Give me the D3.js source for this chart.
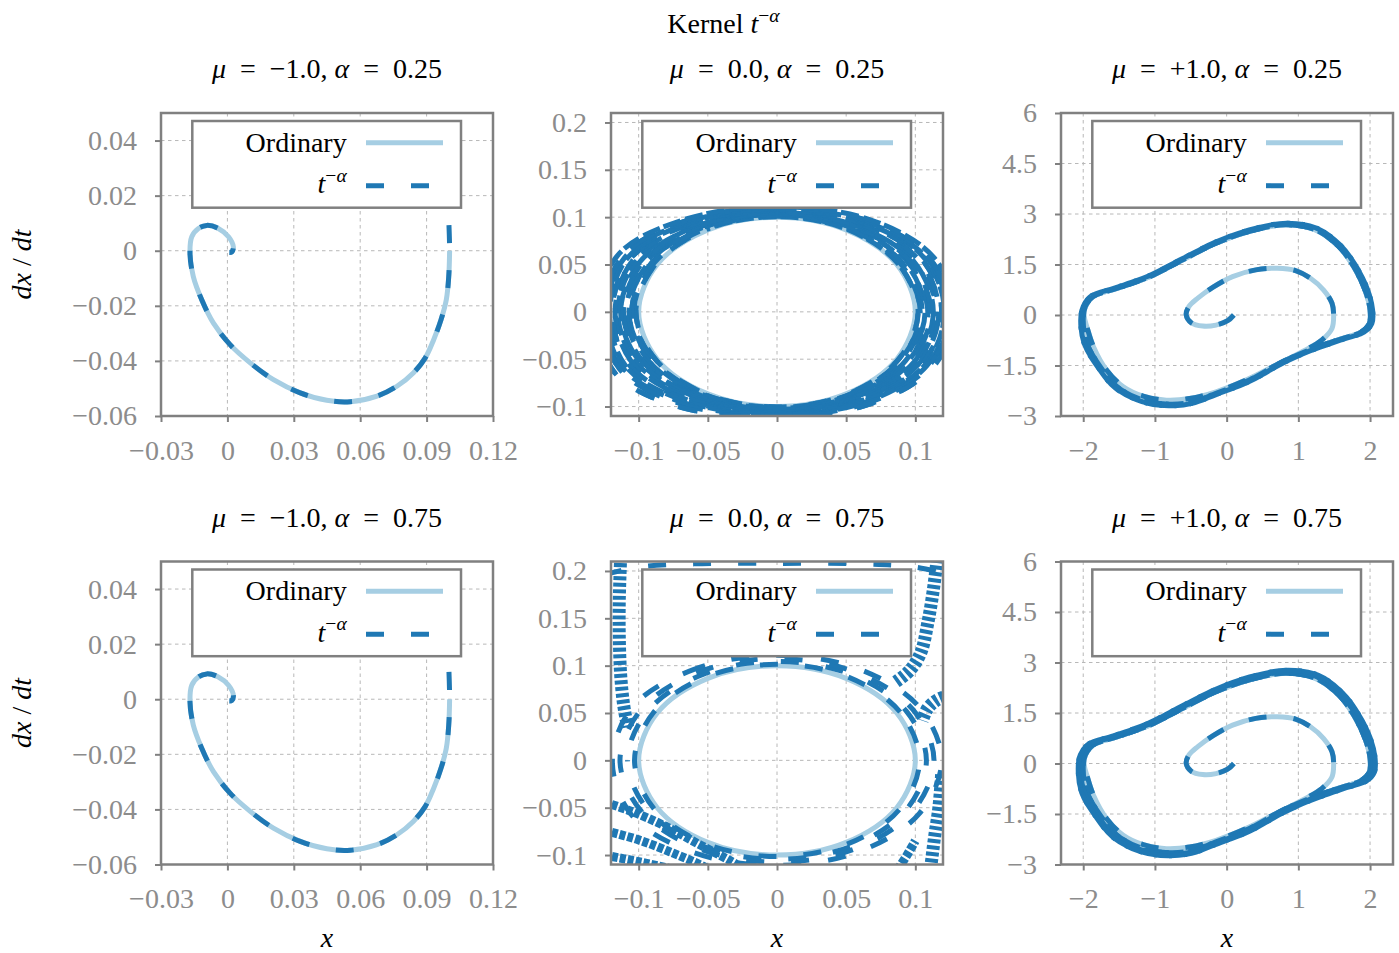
<!DOCTYPE html>
<html>
<head>
<meta charset="utf-8">
<script src="https://cdn.jsdelivr.net/npm/d3@7"></script>
<style>
  body { margin: 0; background: #fff; }
  svg { display: block; }
  text { font-family: "Liberation Serif", "DejaVu Serif", serif; white-space: pre; }
</style>
</head>
<body>
<div id="figure"></div>
<script>
// ------------------------------------------------------------------------ //
// DATA
// ------------------------------------------------------------------------ //

const muLabels = ["−1.0", "0.0", "+1.0"];
const alphaLabels = ["0.25", "0.75"];

// axes, mu = -1
const negXDomain = [-0.03, 0.12], negYDomain = [-0.06, 0.05];
const negXTicks = [-0.03, 0, 0.03, 0.06, 0.09, 0.12];
const negXLabels = ["−0.03", "0", "0.03", "0.06", "0.09", "0.12"];
const negYTicks = [-0.06, -0.04, -0.02, 0, 0.02, 0.04];
const negYLabels = ["−0.06", "−0.04", "−0.02", "0", "0.02", "0.04"];

// axes, mu = 0
const zeroXDomain = [-0.12, 0.12], zeroYDomain = [-0.11, 0.21];
const zeroXTicks = [-0.1, -0.05, 0, 0.05, 0.1];
const zeroXLabels = ["−0.1", "−0.05", "0", "0.05", "0.1"];
const zeroYTicks = [-0.1, -0.05, 0, 0.05, 0.1, 0.15, 0.2];
const zeroYLabels = ["−0.1", "−0.05", "0", "0.05", "0.1", "0.15", "0.2"];

// axes, mu = +1
const posXDomain = [-2.31, 2.32], posYDomain = [-3, 6];
const posXTicks = [-2, -1, 0, 1, 2];
const posXLabels = ["−2", "−1", "0", "1", "2"];
const posYTicks = [-3, -1.5, 0, 1.5, 3, 4.5, 6];
const posYLabels = ["−3", "−1.5", "0", "1.5", "3", "4.5", "6"];

// mu = -1 : damped spiral (x, dx/dt)
const negOrdinary = [
  [0.1004, 0], [0.1000, -0.0094], [0.0989, -0.0178], [0.0965, -0.0251], [0.0932, -0.0323],
  [0.0894, -0.0389], [0.0841, -0.0443], [0.0766, -0.0492], [0.0676, -0.0528], [0.0555, -0.0548],
  [0.0449, -0.0543], [0.0329, -0.0516], [0.0208, -0.0468], [0.0103, -0.0407], [0.0012, -0.0341],
  [-0.0063, -0.0263], [-0.0116, -0.0178], [-0.0154, -0.0094], [-0.0169, -0.0010], [-0.0161, 0.0051],
  [-0.0131, 0.0081], [-0.0093, 0.0092], [-0.0041, 0.0081], [0.0005, 0.0051], [0.0027, 0.0014],
  [0.0020, -0.0004], [0.0009, -0.0006]
];
// the memory curves lie on top of the ordinary one, they only start a bit higher
const negMemoryStart25 = [0.1001, 0.0093];
const negMemoryStart75 = [0.1001, 0.0099];

// mu = 0 : ordinary circle
const zeroOrdinary = [
  [0.1, 0], [0.0866, 0.05], [0.05, 0.0866], [0, 0.1], [-0.05, 0.0866], [-0.0866, 0.05],
  [-0.1, 0], [-0.0866, -0.05], [-0.05, -0.0866], [0, -0.1], [0.05, -0.0866], [0.0866, -0.05]
];

// mu = 0, alpha = 0.25 : dense band of loops
const zeroLoops25 = [
  [[0.102,0],[0.088,0.050],[0.051,0.087],[0,0.1005],[-0.051,0.087],[-0.088,0.050],[-0.102,0],[-0.088,-0.050],[-0.051,-0.087],[0,-0.1005],[0.051,-0.087],[0.088,-0.050]],
  [[0.1035,0],[0.0895,0.0505],[0.052,0.0875],[0,0.101],[-0.052,0.0875],[-0.0895,0.0505],[-0.1035,0],[-0.0895,-0.0505],[-0.052,-0.0875],[0,-0.101],[0.052,-0.0875],[0.0895,-0.0505]],
  [[0.105,0],[0.091,0.051],[0.053,0.088],[0,0.102],[-0.053,0.088],[-0.091,0.051],[-0.105,0],[-0.091,-0.051],[-0.053,-0.088],[0,-0.102],[0.053,-0.088],[0.091,-0.051]],
  [[0.107,0],[0.093,0.0515],[0.054,0.089],[0,0.103],[-0.054,0.089],[-0.093,0.0515],[-0.107,0],[-0.093,-0.0515],[-0.054,-0.089],[0,-0.103],[0.054,-0.089],[0.093,-0.0515]],
  [[0.109,0],[0.095,0.052],[0.055,0.090],[0,0.1035],[-0.055,0.090],[-0.095,0.052],[-0.109,0],[-0.095,-0.052],[-0.055,-0.090],[0,-0.1035],[0.055,-0.090],[0.095,-0.052]],
  [[0.111,0],[0.097,0.0525],[0.056,0.0905],[0,0.1043],[-0.056,0.0905],[-0.097,0.0525],[-0.111,0],[-0.097,-0.0525],[-0.056,-0.0905],[0,-0.1043],[0.056,-0.0905],[0.097,-0.0525]],
  [[0.113,0],[0.099,0.053],[0.057,0.091],[0,0.105],[-0.057,0.091],[-0.099,0.053],[-0.113,0],[-0.099,-0.053],[-0.057,-0.091],[0,-0.105],[0.057,-0.091],[0.099,-0.053]],
  [[0.115,0],[0.101,0.0535],[0.0585,0.092],[0,0.1058],[-0.0585,0.092],[-0.1015,0.054],[-0.115,0],[-0.1015,-0.054],[-0.059,-0.092],[0,-0.1058],[0.0585,-0.092],[0.101,-0.0535]],
  [[0.117,0],[0.103,0.054],[0.060,0.093],[0,0.1065],[-0.060,0.093],[-0.104,0.055],[-0.117,0],[-0.104,-0.055],[-0.061,-0.093],[0,-0.1065],[0.060,-0.093],[0.103,-0.054]],
  [[0.119,0],[0.105,0.055],[0.0615,0.0935],[0,0.1073],[-0.0615,0.0935],[-0.106,0.056],[-0.119,0],[-0.1065,-0.0565],[-0.063,-0.094],[0,-0.1073],[0.0615,-0.0935],[0.105,-0.055]],
  [[0.121,0],[0.107,0.056],[0.063,0.094],[0,0.108],[-0.063,0.094],[-0.108,0.057],[-0.121,0],[-0.109,-0.058],[-0.065,-0.095],[0,-0.108],[0.063,-0.094],[0.107,-0.056]],
  [[0.123,0],[0.1085,0.0565],[0.0645,0.095],[0,0.1088],[-0.0645,0.095],[-0.11,0.0575],[-0.123,0],[-0.1115,-0.059],[-0.0675,-0.096],[0,-0.1088],[0.0645,-0.095],[0.1085,-0.0565]],
  [[0.125,0],[0.110,0.057],[0.066,0.096],[0,0.1095],[-0.066,0.096],[-0.112,0.058],[-0.125,0],[-0.114,-0.060],[-0.070,-0.097],[0,-0.1095],[0.066,-0.096],[0.110,-0.057]],
  [[0.129,0],[0.113,0.058],[0.068,0.097],[0,0.111],[-0.068,0.097],[-0.115,0.060],[-0.129,0],[-0.118,-0.063],[-0.074,-0.099],[0,-0.111],[0.068,-0.097],[0.113,-0.058]]
];

// mu = 0, alpha = 0.75 : separate rings plus strands leaving the window
const zeroLoops75 = [
  [[0.103,0],[0.089,0.051],[0.0515,0.088],[0,0.1015],[-0.0515,0.088],[-0.089,0.051],[-0.103,0],[-0.089,-0.051],[-0.0515,-0.088],[0,-0.1015],[0.0515,-0.088],[0.089,-0.051]],
  [[0.108,0],[0.0935,0.052],[0.054,0.0905],[0,0.1045],[-0.054,0.0905],[-0.0935,0.052],[-0.108,0],[-0.0935,-0.052],[-0.054,-0.0905],[0,-0.1045],[0.054,-0.0905],[0.0935,-0.052]],
  [[0.1135,0],[0.098,0.054],[0.057,0.093],[0,0.1075],[-0.057,0.093],[-0.098,0.054],[-0.1135,0],[-0.098,-0.054],[-0.057,-0.093],[0,-0.1075],[0.057,-0.093],[0.098,-0.054]],
  [[0.119,0],[0.103,0.056],[0.060,0.096],[0,0.111],[-0.060,0.096],[-0.104,0.057],[-0.119,0],[-0.105,-0.058],[-0.061,-0.097],[0,-0.111],[0.060,-0.096],[0.103,-0.056]]
];
const zeroTop75 = [[-0.125,0.196],[-0.1,0.204],[-0.06,0.2075],[0,0.208],[0.06,0.2075],[0.1,0.204],[0.125,0.196]];
const zeroColumns75 = [
  [[-0.113,0.215],[-0.114,0.17],[-0.114,0.13],[-0.113,0.09],[-0.111,0.06],[-0.108,0.035]],
  [[0.086,0.083],[0.096,0.095],[0.104,0.114],[0.109,0.145],[0.113,0.18],[0.116,0.215]],
  [[0.125,0.069],[0.116,0.064],[0.109,0.055],[0.105,0.042]],
  [[0.119,-0.015],[0.117,-0.05],[0.114,-0.08],[0.111,-0.115]]
];
const zeroLanes75 = [
  [[0.087,-0.116],[0.094,-0.1],[0.1,-0.085]],
  [[-0.125,-0.044],[-0.105,-0.054],[-0.08,-0.07],[-0.056,-0.089],[-0.035,-0.105],[-0.022,-0.116]],
  [[-0.125,-0.074],[-0.1,-0.084],[-0.075,-0.098],[-0.056,-0.11],[-0.048,-0.116]],
  [[-0.125,-0.1],[-0.1,-0.107],[-0.078,-0.114],[-0.066,-0.118]]
];

// mu = +1 : spiral out of (0.1, 0) onto the limit cycle
const posSpiral = [
  [0.1,0],[0.014,-0.17],[-0.148,-0.30],[-0.333,-0.33],[-0.494,-0.23],[-0.564,0],[-0.527,0.25],
  [-0.402,0.50],[-0.194,0.82],[0.083,1.14],[0.406,1.34],[0.707,1.39],[0.961,1.32],[1.169,1.09],
  [1.353,0.74],[1.469,0.35],[1.492,0],[1.469,-0.40],[1.330,-0.74],[1.053,-1.09],[0.730,-1.44],
  [0.314,-1.89],[-0.148,-2.28],[-0.517,-2.48],[-0.841,-2.53],[-1.164,-2.41],[-1.441,-2.13],
  [-1.672,-1.64],[-1.857,-0.94],[-1.949,-0.35],[-1.985,-0.05]
];
const posCycle = [
  [-1.97,0.25],[-1.86,0.55],[-1.53,0.79],[-1.07,1.14],[-0.61,1.64],[-0.15,2.13],[0.31,2.48],
  [0.82,2.68],[1.24,2.53],[1.56,2.04],[1.77,1.44],[1.93,0.74],[2.0,0.15],[1.99,-0.25],
  [1.88,-0.50],[1.61,-0.70],[1.15,-1.04],[0.78,-1.39],[0.31,-1.94],[-0.15,-2.33],[-0.47,-2.58],
  [-0.79,-2.65],[-1.16,-2.53],[-1.53,-2.13],[-1.76,-1.54],[-1.95,-0.84],[-2.0,-0.15]
];
const posCycleMid = [
  [-2.0,0.255],[-1.89,0.56],[-1.555,0.805],[-1.09,1.16],[-0.62,1.67],[-0.155,2.165],[0.315,2.525],
  [0.835,2.725],[1.26,2.575],[1.585,2.075],[1.80,1.465],[1.965,0.755],[2.035,0.155],[2.025,-0.255],
  [1.915,-0.51],[1.64,-0.71],[1.17,-1.06],[0.795,-1.415],[0.315,-1.975],[-0.155,-2.37],[-0.48,-2.625],
  [-0.805,-2.695],[-1.18,-2.575],[-1.555,-2.165],[-1.79,-1.565],[-1.985,-0.855],[-2.035,-0.155]
];
const posCycleWide = [
  [-2.04,0.26],[-1.93,0.57],[-1.58,0.82],[-1.11,1.18],[-0.63,1.70],[-0.16,2.20],[0.32,2.57],
  [0.85,2.77],[1.28,2.62],[1.61,2.11],[1.83,1.49],[2.0,0.77],[2.07,0.16],[2.06,-0.26],
  [1.95,-0.52],[1.67,-0.72],[1.19,-1.08],[0.81,-1.44],[0.32,-2.01],[-0.16,-2.41],[-0.49,-2.67],
  [-0.82,-2.74],[-1.20,-2.62],[-1.58,-2.20],[-1.82,-1.59],[-2.02,-0.87],[-2.07,-0.16]
];
// further laps after the first one
const posLapsOrdinary = [posCycle];
const posLaps25 = [posCycle, posCycle, posCycleMid, posCycleMid, posCycleMid];
const posLaps75 = [posCycle, posCycle, posCycleMid, posCycleMid, posCycleMid, posCycleWide, posCycleWide, posCycleWide];

const legendNames = ["Ordinary", "t", "−α"];

// ------------------------------------------------------------------------ //
// SVG AREA
// ------------------------------------------------------------------------ //

const width = 1399, height = 953;
const colLeft = [161, 611, 1061];
const rowTop = [113, 561.5];
const plotW = 332, plotH = 303;
const fontSize = 28;
const gray = "#808080", labelGray = "#8c8c8c";
const lightBlue = "#a6cee3", darkBlue = "#1f78b4";
const eq = "\u2002=\u2002"; // wider math spacing round "="

const svg = d3.select("#figure")
  .append("svg")
    .attr("width", width)
    .attr("height", height);

// text made of runs: {t, it (italic), sup (superscript)}
function addRuns(textSel, parts, size) {
  let raised = false;
  parts.forEach(function(p) {
    const ts = textSel.append("tspan").text(p.t)
      .attr("font-size", p.sup ? size * 0.7 : size)
      .attr("font-style", p.it ? "italic" : "normal");
    if (p.sup && !raised) { ts.attr("dy", -size * 0.4); raised = true; }
    if (!p.sup && raised) { ts.attr("dy", size * 0.4); raised = false; }
  });
  return textSel;
}

// closed loop started at another of its points (same shape, other dash phase)
function startAt(loop, k) {
  k = k % loop.length;
  return loop.slice(k).concat(loop.slice(0, k));
}

// main title
addRuns(svg.append("text")
    .attr("x", 723.5).attr("y", 33)
    .attr("text-anchor", "middle"),
  [{t: "Kernel "}, {t: "t", it: 1}, {t: "−", sup: 1}, {t: "α", it: 1, sup: 1}], fontSize);

// ------------------------------------------------------------------------ //
// PANELS
// ------------------------------------------------------------------------ //

const columns = [
  { xDomain: negXDomain, yDomain: negYDomain, xTicks: negXTicks, xLabels: negXLabels, yTicks: negYTicks, yLabels: negYLabels },
  { xDomain: zeroXDomain, yDomain: zeroYDomain, xTicks: zeroXTicks, xLabels: zeroXLabels, yTicks: zeroYTicks, yLabels: zeroYLabels },
  { xDomain: posXDomain, yDomain: posYDomain, xTicks: posXTicks, xLabels: posXLabels, yTicks: posYTicks, yLabels: posYLabels }
];

// list of marks for a panel: {data, closed, kind, offset}
function panelLayers(col, row) {
  const layers = [];
  if (col === 0) {
    layers.push({data: negOrdinary, closed: false, kind: "ordinary"});
    const start = row === 0 ? negMemoryStart25 : negMemoryStart75;
    layers.push({data: [start].concat(negOrdinary), closed: false, kind: "memory", offset: 0});
  } else if (col === 1) {
    layers.push({data: zeroOrdinary, closed: true, kind: "ordinary"});
    if (row === 0) {
      // the band is passed over twice
      zeroLoops25.forEach(function(l, i) {
        layers.push({data: startAt(l, i * 5), closed: true, kind: "memory", offset: (i * 17) % 45});
        layers.push({data: startAt(l, i * 7 + 3), closed: true, kind: "memory", offset: (i * 17 + 22) % 45});
      });
    } else {
      zeroLoops75.forEach(function(l, i) {
        layers.push({data: startAt(l, i * 5), closed: true, kind: "memory", offset: (i * 17) % 45});
      });
      layers.push({data: zeroTop75, closed: false, kind: "memory", offset: 0});
      zeroColumns75.forEach(function(l) { layers.push({data: l, closed: false, kind: "hatch", offset: 0}); });
      zeroLanes75.forEach(function(l) { layers.push({data: l, closed: false, kind: "lane", offset: 0}); });
    }
  } else {
    layers.push({data: posSpiral.concat(posCycle), closed: false, kind: "ordinary"});
    posLapsOrdinary.forEach(function(l) { layers.push({data: l, closed: true, kind: "ordinary"}); });
    layers.push({data: posSpiral.concat(posCycle), closed: false, kind: "memory", offset: 0});
    const laps = row === 0 ? posLaps25 : posLaps75;
    laps.forEach(function(l, j) {
      layers.push({data: l, closed: true, kind: "memory", offset: ((j + 1) * 15) % 45});
    });
  }
  return layers;
}

const styles = {
  ordinary: {stroke: lightBlue, width: 5, dash: null},
  memory:   {stroke: darkBlue, width: 5, dash: "18 27"},
  hatch:    {stroke: darkBlue, width: 13, dash: "4 2.5"},
  lane:     {stroke: darkBlue, width: 9, dash: "6 2"}
};

function drawPanel(col, row) {
  const cfg = columns[col];
  const left = colLeft[col], top = rowTop[row];
  const g = svg.append("g");

  const x = d3.scaleLinear().domain(cfg.xDomain).range([left, left + plotW]);
  const y = d3.scaleLinear().domain(cfg.yDomain).range([top + plotH, top]);

  const clipId = "clip" + row + col;
  g.append("clipPath").attr("id", clipId)
    .append("rect")
      .attr("x", left).attr("y", top)
      .attr("width", plotW).attr("height", plotH);

  // grid
  g.selectAll(".vgrid").data(cfg.xTicks).enter().append("line")
      .attr("x1", d => x(d)).attr("x2", d => x(d))
      .attr("y1", top).attr("y2", top + plotH)
      .attr("stroke", "#b8b8b8").attr("stroke-width", 1)
      .attr("stroke-dasharray", "3.5 3.5");
  g.selectAll(".hgrid").data(cfg.yTicks).enter().append("line")
      .attr("y1", d => y(d)).attr("y2", d => y(d))
      .attr("x1", left).attr("x2", left + plotW)
      .attr("stroke", "#b8b8b8").attr("stroke-width", 1)
      .attr("stroke-dasharray", "3.5 3.5");

  // curves
  const openLine = d3.line().x(d => x(d[0])).y(d => y(d[1])).curve(d3.curveCatmullRom.alpha(0.5));
  const closedLine = d3.line().x(d => x(d[0])).y(d => y(d[1])).curve(d3.curveCatmullRomClosed.alpha(0.5));
  const curves = g.append("g").attr("clip-path", "url(#" + clipId + ")");
  panelLayers(col, row).forEach(function(layer) {
    const st = styles[layer.kind];
    curves.append("path")
      .attr("d", (layer.closed ? closedLine : openLine)(layer.data))
      .attr("fill", "none")
      .attr("stroke", st.stroke)
      .attr("stroke-width", st.width)
      .attr("stroke-linejoin", "round")
      .attr("stroke-linecap", "butt")
      .attr("stroke-dasharray", st.dash)
      .attr("stroke-dashoffset", st.dash ? layer.offset : null);
  });

  // frame
  g.append("rect")
    .attr("x", left).attr("y", top)
    .attr("width", plotW).attr("height", plotH)
    .attr("fill", "none").attr("stroke", gray).attr("stroke-width", 2.5);

  // axes
  const xAxis = g.append("g")
    .attr("transform", "translate(0," + (top + plotH) + ")")
    .call(d3.axisBottom(x).tickValues(cfg.xTicks)
      .tickFormat((d, i) => cfg.xLabels[i])
      .tickSize(6).tickPadding(18).tickSizeOuter(0));
  const yAxis = g.append("g")
    .attr("transform", "translate(" + left + ",0)")
    .call(d3.axisLeft(y).tickValues(cfg.yTicks)
      .tickFormat((d, i) => cfg.yLabels[i])
      .tickSize(6).tickPadding(18).tickSizeOuter(0));
  [xAxis, yAxis].forEach(function(ax) {
    ax.attr("font-family", null).attr("font-size", null);
    ax.select(".domain").remove();
    ax.selectAll(".tick line").attr("stroke", gray).attr("stroke-width", 2);
    ax.selectAll(".tick text").attr("fill", labelGray).style("font-size", fontSize + "px");
  });

  // subplot title
  addRuns(g.append("text")
      .attr("x", left + plotW / 2).attr("y", top - 35)
      .attr("text-anchor", "middle"),
    [{t: "μ", it: 1}, {t: eq + muLabels[col] + ", "}, {t: "α", it: 1}, {t: eq + alphaLabels[row]}], fontSize);

  // axis labels
  if (col === 0) {
    addRuns(g.append("text")
        .attr("transform", "translate(31," + (top + plotH / 2) + ")rotate(-90)")
        .attr("text-anchor", "middle"),
      [{t: "dx", it: 1}, {t: " / "}, {t: "dt", it: 1}], fontSize);
  }
  if (row === 1) {
    addRuns(g.append("text")
        .attr("x", left + plotW / 2).attr("y", 947)
        .attr("text-anchor", "middle"),
      [{t: "x", it: 1}], fontSize);
  }

  // legend
  const lg = g.append("g");
  lg.append("rect")
    .attr("x", left + 31.3).attr("y", top + 8)
    .attr("width", 268.7).attr("height", 86.7)
    .attr("fill", "#fff").attr("stroke", gray).attr("stroke-width", 2.5);
  lg.append("text")
    .attr("x", left + 185.7).attr("y", top + 38.7)
    .attr("text-anchor", "end")
    .style("font-size", fontSize + "px")
    .text(legendNames[0]);
  lg.append("line")
    .attr("x1", left + 205).attr("x2", left + 282)
    .attr("y1", top + 29.7).attr("y2", top + 29.7)
    .attr("stroke", lightBlue).attr("stroke-width", 5);
  addRuns(lg.append("text")
      .attr("x", left + 185.7).attr("y", top + 80)
      .attr("text-anchor", "end"),
    [{t: legendNames[1], it: 1}, {t: legendNames[2].charAt(0), sup: 1}, {t: legendNames[2].charAt(1), it: 1, sup: 1}], fontSize);
  lg.append("line")
    .attr("x1", left + 205).attr("x2", left + 282)
    .attr("y1", top + 72.7).attr("y2", top + 72.7)
    .attr("stroke", darkBlue).attr("stroke-width", 5)
    .attr("stroke-dasharray", "18 27");
}

[0, 1].forEach(function(row) {
  [0, 1, 2].forEach(function(col) { drawPanel(col, row); });
});
</script>
</body>
</html>
